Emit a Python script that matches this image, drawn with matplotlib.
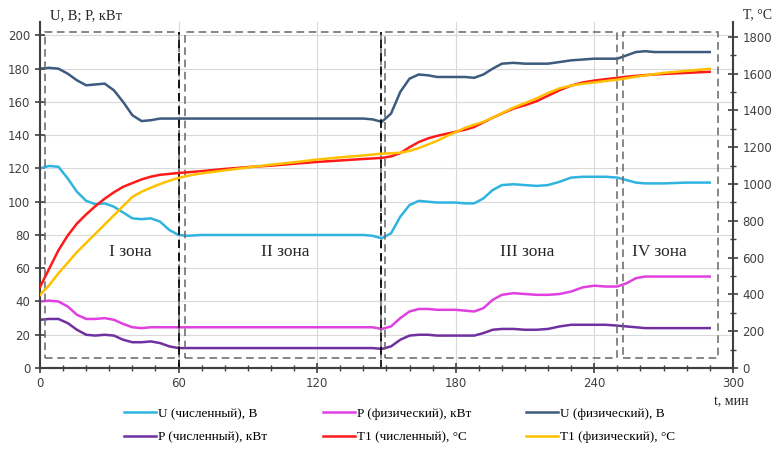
import matplotlib
matplotlib.use("Agg")
import matplotlib.pyplot as plt
from matplotlib.patches import Rectangle
from matplotlib.ticker import MultipleLocator

# time, min
t = [0, 4, 8, 12, 16, 20, 24, 28, 32, 36, 40, 44, 48, 52, 56, 60, 64, 70, 80, 90,
     100, 110, 120, 130, 140, 144, 148, 152, 156, 160, 164, 168, 172, 176, 180, 184,
     188, 192, 196, 200, 205, 210, 215, 220, 225, 230, 235, 240, 245, 250, 254, 258,
     262, 266, 270, 280, 290]

u_num = [120, 121.5, 121, 114, 106, 100.5, 98.5, 99, 97, 93.5, 90, 89.5, 90, 88, 83, 80,
         79.5, 80, 80, 80, 80, 80, 80, 80, 80, 79.5, 78, 81, 91, 98, 100.5, 100, 99.5,
         99.5, 99.5, 99, 99, 102, 107, 110, 110.5, 110, 109.5, 110, 112, 114.5, 115, 115,
         115, 114.5, 113, 111.5, 111, 111, 111, 111.5, 111.5]

p_phys = [40, 40.5, 40, 37, 32, 29.5, 29.5, 30, 29, 26.5, 24.5, 24, 24.5, 24.5, 24.5, 24.5,
          24.5, 24.5, 24.5, 24.5, 24.5, 24.5, 24.5, 24.5, 24.5, 24.5, 23.5, 25, 30, 34,
          35.5, 35.5, 35, 35, 35, 34.5, 34, 36, 41, 44, 45, 44.5, 44, 44, 44.5, 46, 48.5,
          49.5, 49, 49, 51, 54, 55, 55, 55, 55, 55]

u_phys = [180, 180.5, 180, 177, 173, 170, 170.5, 171, 167, 160, 152, 148.5, 149, 150, 150,
          150, 150, 150, 150, 150, 150, 150, 150, 150, 150, 149.5, 148, 153, 166, 174,
          176.5, 176, 175, 175, 175, 175, 174.5, 176.5, 180, 183, 183.5, 183, 183, 183, 184,
          185, 185.5, 186, 186, 186, 188, 190, 190.5, 190, 190, 190, 190]

p_num = [29, 29.5, 29.5, 27, 23, 20, 19.5, 20, 19.5, 17, 15.5, 15.5, 16, 15, 13, 12, 12, 12,
         12, 12, 12, 12, 12, 12, 12, 12, 11.5, 13, 17, 19.5, 20, 20, 19.5, 19.5, 19.5, 19.5,
         19.5, 21, 23, 23.5, 23.5, 23, 23, 23.5, 25, 26, 26, 26, 26, 25.5, 25, 24.5, 24, 24,
         24, 24, 24]

t1_num = [440, 540, 640, 720, 785, 835, 880, 920, 955, 985, 1005, 1025, 1040, 1050, 1055,
          1060, 1064, 1070, 1082, 1092, 1100, 1110, 1120, 1128, 1136, 1139, 1142, 1150,
          1168, 1200, 1228, 1248, 1262, 1273, 1284, 1295, 1310, 1335, 1360, 1383, 1410,
          1428, 1450, 1480, 1510, 1535, 1552, 1562, 1570, 1577, 1583, 1588, 1592, 1595,
          1598, 1604, 1610]

t1_phys = [397, 450, 515, 572, 630, 680, 730, 780, 830, 880, 930, 958, 980, 1000, 1018,
           1033, 1045, 1058, 1074, 1090, 1105, 1118, 1133, 1145, 1155, 1160, 1165, 1167,
           1170, 1180, 1195, 1215, 1235, 1260, 1282, 1305, 1322, 1338, 1360, 1385, 1415,
           1440, 1465, 1495, 1520, 1535, 1545, 1552, 1560, 1567, 1575, 1583, 1590, 1597,
           1604, 1615, 1626]

# zones: (start, end) in min
zones = [(2.2, 60.4), (62.6, 147.5), (149.6, 250.0), (252.6, 293.5)]
zone_names = ["I зона", "II зона", "III зона", "IV зона"]
zone_text_x = [39, 106, 211, 268]
borders = [60.4, 147.5]

serif = "Liberation Serif"
tick_color = "#404040"

fig = plt.figure(figsize=(7.75, 4.51), dpi=100)
ax = fig.add_axes([0.0516, 0.184, 0.894, 0.767])
ax2 = ax.twinx()

ax.set_xlim(0, 300)
ax.set_ylim(0, 208)
ax2.set_ylim(0, 1880)

ax.xaxis.set_major_locator(MultipleLocator(60))
ax.xaxis.set_minor_locator(MultipleLocator(10))
ax.set_yticks(range(0, 201, 20))
ax2.set_yticks(range(0, 1801, 200))
ax2.yaxis.set_minor_locator(MultipleLocator(100))

ax.grid(True, which="major", color="#d9d9d9", linewidth=0.8)
ax.set_axisbelow(True)

for a in (ax, ax2):
    a.spines["top"].set_visible(False)
    for s in ("left", "right", "bottom"):
        a.spines[s].set_color("#404040")
        a.spines[s].set_linewidth(1.5)
    a.tick_params(which="major", direction="inout", length=7, width=1.2,
                  colors=tick_color, labelsize=8.5)
    a.tick_params(which="minor", direction="inout", length=4, width=1.0,
                  colors=tick_color)
ax.spines["right"].set_visible(False)
ax2.spines["left"].set_visible(False)
ax.tick_params(axis="x", pad=3)

lw = 1.8
l1, = ax.plot(t, u_num, color="#2fb4e0", lw=lw, label="U (численный), В")
l2, = ax.plot(t, p_phys, color="#e040e0", lw=lw, label="P (физический), кВт")
l3, = ax.plot(t, u_phys, color="#3d5b7e", lw=lw, label="U (физический), В")
l4, = ax.plot(t, p_num, color="#7030a0", lw=lw, label="P (численный), кВт")
l5, = ax2.plot(t, t1_num, color="#ff1a1a", lw=lw, label="T1 (численный), °C")
l6, = ax2.plot(t, t1_phys, color="#ffc000", lw=lw, label="T1 (физический), °C")

for (x0, x1) in zones:
    ax.add_patch(Rectangle((x0, 6), x1 - x0, 196, fill=False, edgecolor="#666666",
                           linestyle=(0, (5, 3)), linewidth=1.1, zorder=3))
for xb in borders:
    ax.plot([xb, xb], [0, 202], color="black", linestyle=(0, (5, 3)), lw=1.2, zorder=4)

for name, xt in zip(zone_names, zone_text_x):
    ax.text(xt, 70, name, family=serif, fontsize=12.5, ha="center", va="center",
            color="#262626")

fig.text(50 / 775, 1 - 16 / 451, "U, В; P, кВт", family=serif, fontsize=10.5,
         ha="left", va="center", color="#262626")
fig.text(743 / 775, 1 - 15 / 451, "T, °C", family=serif, fontsize=10,
         ha="left", va="center", color="#262626")
fig.text(731 / 775, 1 - 402 / 451, "t, мин", family=serif, fontsize=10,
         ha="center", va="center", color="#262626")

# legend: three columns placed separately, filled row by row
columns = [[l1, l4], [l2, l5], [l3, l6]]
col_x = [124, 323, 526]
for handles, cx in zip(columns, col_x):
    fig.legend(handles=handles, loc="center left",
               bbox_to_anchor=(cx / 775, 1 - 425.5 / 451), frameon=False,
               borderpad=0, borderaxespad=0, handlelength=2.4,
               handletextpad=0.15, labelspacing=0.85,
               prop={"family": serif, "size": 9.5})

fig.savefig("out.png", dpi=100)
